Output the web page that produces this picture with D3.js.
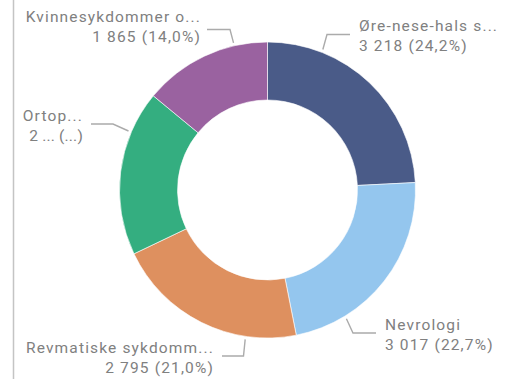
<!DOCTYPE html>
<html>
<head>
<meta charset="utf-8">
<script src="https://cdn.jsdelivr.net/npm/d3@7/dist/d3.min.js"></script>
<style>
  html, body { margin: 0; padding: 0; background: #fff; }
  svg { display: block; }
  text { font-family: Roboto, "DejaVu Sans", sans-serif; font-size: 15.5px; fill: #808080; letter-spacing: 1.15px; }
  tspan.compact { letter-spacing: 0.2px; }
</style>
</head>
<body>
<svg id="chart" width="506" height="379"></svg>
<script>
// Patient counts by specialty
const categories = [
  "Øre-nese-hals s...",
  "Nevrologi",
  "Revmatiske sykdomm...",
  "Ortop...",
  "Kvinnesykdommer o..."
];
const values = [3218, 3017, 2795, 2403, 1865];
const colors = ["#4a5b88", "#94c6ee", "#de905f", "#34ae80", "#9a62a0"];
// value labels shown in shortened form
const compactValue = [false, false, false, true, false];

// label layout: leader start angle (deg, clockwise from top), elbow, end, text anchor
const labelLayout = [
  { ang: 21.5,  elbow: [327, 34.5], end: [350, 34.5], tx: 359, ty: 31,  anchor: "start" },
  { ang: 148.5, elbow: [353, 333],  end: [376, 333],  tx: 385, ty: 330, anchor: "start" },
  { ang: 188.5, elbow: [243.5, 356], end: [222, 356], tx: 214, ty: 353, anchor: "end" },
  { ang: 293,   elbow: [113, 124],  end: [91, 124],   tx: 83,  ty: 121, anchor: "end" },
  { ang: 347,   elbow: [230, 29.5], end: [207, 29.5], tx: 201, ty: 22,  anchor: "end" }
];

const svg = d3.select("#chart");
const cx = 267.5, cy = 190, outerR = 148, innerR = 90;

// thin divider on the left edge
svg.append("line")
  .attr("x1", 13.5).attr("x2", 13.5).attr("y1", 0).attr("y2", 379)
  .attr("stroke", "#c4c4c4").attr("stroke-width", 1.5);

const total = d3.sum(values);
const pie = d3.pie().sort(null).value(d => d)(values);
const arc = d3.arc().innerRadius(innerR).outerRadius(outerR);

const g = svg.append("g").attr("transform", `translate(${cx},${cy})`);
g.selectAll("path.slice")
  .data(pie)
  .join("path")
  .attr("class", "slice")
  .attr("d", arc)
  .attr("fill", (d, i) => colors[i])
  .attr("stroke", "#ffffff")
  .attr("stroke-width", 0.6);

const fmtNum = v => d3.format(",")(v).replace(/,/g, " ");
const fmtPct = v => d3.format(".1f")(v * 100).replace(".", ",") + "%";

pie.forEach((d, i) => {
  const L = labelLayout[i];
  const a = L.ang * Math.PI / 180;
  const r0 = outerR + 3;
  const sx = cx + r0 * Math.sin(a), sy = cy - r0 * Math.cos(a);
  svg.append("polyline")
    .attr("points", [[sx, sy], L.elbow, L.end].map(p => p.join(",")).join(" "))
    .attr("fill", "none")
    .attr("stroke", "#ababab")
    .attr("stroke-width", 1.4);

  const valText = compactValue[i]
    ? String(values[i])[0] + " ... (...)"
    : `${fmtNum(values[i])} (${fmtPct(values[i] / total)})`;

  const t = svg.append("text")
    .attr("text-anchor", L.anchor)
    .attr("x", L.tx).attr("y", L.ty);
  t.append("tspan").attr("x", L.tx).text(categories[i]);
  t.append("tspan").attr("x", L.tx).attr("dy", 20)
    .classed("compact", compactValue[i])
    .text(valText);
});
</script>
</body>
</html>
